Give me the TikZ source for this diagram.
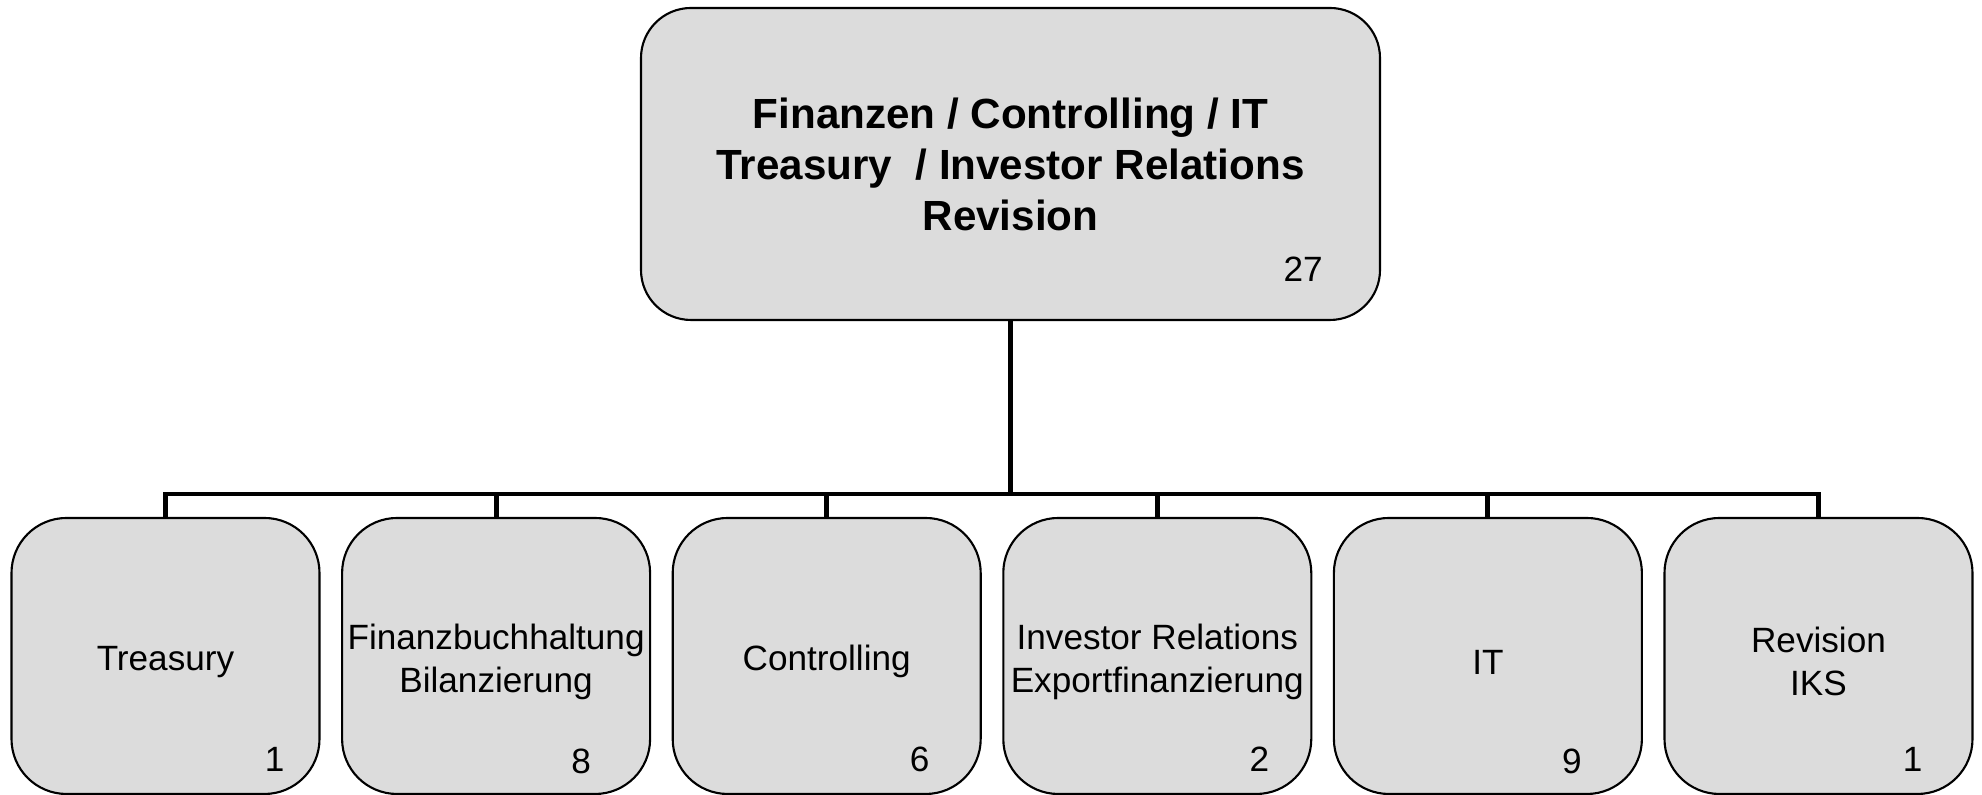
\documentclass[tikz,border=0pt]{standalone}
\usepackage{fontspec}
\setmainfont{Liberation Sans}
\usepackage{tikz}
\definecolor{boxgray}{RGB}{220,220,220}
\newcommand{\toppad}{\rule{0pt}{10.5pt}}
\tikzset{
    headbox/.style={draw=black, line width=0.6pt, fill=boxgray, rounded corners=0.5cm,
        minimum width=7.39cm, minimum height=3.12cm, align=center,
        font=\fontsize{12}{14.5}\selectfont\bfseries},
    unitbox/.style={draw=black, line width=0.6pt, fill=boxgray, rounded corners=0.55cm,
        minimum width=3.08cm, minimum height=2.76cm, align=center, inner sep=0pt,
        font=\fontsize{10}{12.2}\selectfont},
    count/.style={font=\fontsize{10}{12}\selectfont, inner sep=0pt},
    orgline/.style={line width=1.4pt, black}
}

\begin{document}
\begin{tikzpicture}
                \useasboundingbox (0,0) rectangle (19.82,7.95);

                % Head
                \node[headbox] (head) at (10.105,6.31) {Finanzen / Controlling / IT\\Treasury \ / Investor Relations\\Revision};
                \node[count] (nhead) at ([xshift=-0.78cm,yshift=0.52cm]head.south east) {27};

                % Units
                \node[unitbox] (treasury) at (1.655,1.39) {\toppad Treasury};
                \node[unitbox] (fibu) at (4.961,1.39) {\toppad Finanzbuchhaltung\\Bilanzierung};
                \node[unitbox] (contr) at (8.267,1.39) {\toppad Controlling};
                \node[unitbox] (invrel) at (11.573,1.39) {\toppad Investor Relations\\Exportfinanzierung};
                \node[unitbox] (it) at (14.879,1.39) {\toppad IT};
                \node[unitbox] (rev) at (18.185,1.39) {\toppad Revision\\IKS};

                % Counts
                \node[count] (ntreasury) at ([xshift=-0.46cm,yshift=0.36cm]treasury.south east) {1};
                \node[count] (nfibu) at ([xshift=-0.70cm,yshift=0.34cm]fibu.south east) {8};
                \node[count] (ncontr) at ([xshift=-0.62cm,yshift=0.36cm]contr.south east) {6};
                \node[count] (ninvrel) at ([xshift=-0.53cm,yshift=0.36cm]invrel.south east) {2};
                \node[count] (nit) at ([xshift=-0.71cm,yshift=0.34cm]it.south east) {9};
                \node[count] (nrev) at ([xshift=-0.61cm,yshift=0.36cm]rev.south east) {1};

                % Lines
                \coordinate (bar) at (head.south |- 0,3.01);
                \draw[orgline] (head.south) -- (bar);
                \draw[orgline] (bar) -| (treasury.north);
                \draw[orgline] (bar) -| (fibu.north);
                \draw[orgline] (bar) -| (contr.north);
                \draw[orgline] (bar) -| (invrel.north);
                \draw[orgline] (bar) -| (it.north);
                \draw[orgline] (bar) -| (rev.north);
            \end{tikzpicture}
\end{document}
